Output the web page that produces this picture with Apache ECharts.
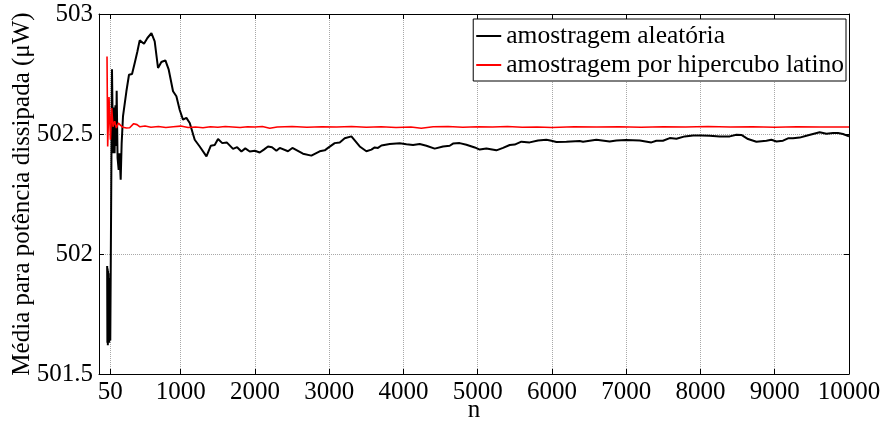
<!DOCTYPE html>
<html>
<head>
<meta charset="utf-8">
<script src="https://cdn.jsdelivr.net/npm/echarts/dist/echarts.min.js"></script>
<style>
  html, body { margin: 0; padding: 0; background: #fff; }
  #main { width: 883px; height: 425px; }
</style>
</head>
<body>
<div id="main"></div>
<script>
// tick labels on n axis
var xTicks = [50, 1000, 2000, 3000, 4000, 5000, 6000, 7000, 8000, 9000, 10000];

// amostragem aleatoria
var randN = [10, 13, 16, 19, 22, 25, 28, 31, 34, 37, 40, 43, 47, 52, 75, 89, 100, 110, 121, 130, 138, 150, 165, 176, 192, 205,
  223, 269, 304, 345, 381, 417, 448, 506, 552, 606, 650, 695, 740, 794, 839, 897, 942, 987, 1031, 1077, 1122, 1189, 1256,
  1347, 1405, 1458, 1503, 1560, 1620, 1705, 1760, 1818, 1870, 1930, 2000, 2064, 2120, 2176, 2230, 2289, 2334, 2445, 2504,
  2647, 2760, 2872, 2940, 2984, 3074, 3142, 3209, 3299, 3411, 3501, 3568, 3613, 3657, 3703, 3815, 3950, 4040, 4129, 4219,
  4309, 4421, 4533, 4623, 4667, 4757, 4848, 4960, 5027, 5117, 5252, 5341, 5431, 5498, 5588, 5700, 5812, 5925, 5992, 6060,
  6194, 6373, 6418, 6598, 6777, 6868, 6998, 7182, 7339, 7406, 7495, 7586, 7676, 7788, 7900, 8012, 8124, 8259, 8394, 8484,
  8551, 8640, 8753, 8888, 8955, 9023, 9111, 9179, 9246, 9336, 9426, 9515, 9605, 9696, 9785, 9852, 9919, 10000];
var randVal = [501.95, 501.63, 501.94, 501.62, 501.93, 501.63, 501.92, 501.64, 501.90, 501.63, 501.88, 501.65, 501.80, 501.64,
  502.77, 502.42, 502.61, 502.42, 502.62, 502.45, 502.68, 502.40, 502.35, 502.42, 502.31, 502.46,
  502.573, 502.678, 502.747, 502.75, 502.796, 502.844, 502.89, 502.876, 502.90, 502.92, 502.886, 502.775, 502.80, 502.807,
  502.768, 502.678, 502.657, 502.60, 502.56, 502.567, 502.546, 502.476, 502.448,
  502.407, 502.451, 502.454, 502.479, 502.462, 502.465, 502.438, 502.445, 502.427, 502.44, 502.427, 502.43, 502.423, 502.435,
  502.448, 502.445, 502.43, 502.442, 502.428, 502.442,
  502.418, 502.41, 502.428, 502.432, 502.442, 502.462, 502.465, 502.482, 502.49, 502.448, 502.428, 502.435, 502.444, 502.442,
  502.452, 502.458, 502.461, 502.457, 502.454, 502.458,
  502.451, 502.439, 502.448, 502.451, 502.46, 502.462, 502.455, 502.444, 502.435, 502.44, 502.432, 502.442, 502.454, 502.456,
  502.468, 502.465, 502.473, 502.476, 502.472, 502.467,
  502.468, 502.471, 502.468, 502.476, 502.469, 502.473, 502.475, 502.473, 502.465, 502.472, 502.472, 502.483, 502.48, 502.49,
  502.494, 502.494, 502.493, 502.49, 502.49, 502.497,
  502.496, 502.479, 502.468, 502.472, 502.476, 502.469, 502.472, 502.482, 502.482, 502.485, 502.493, 502.50, 502.507, 502.501,
  502.504, 502.504, 502.50, 502.49];

// amostragem por hipercubo latino
var lhsN = [8, 17, 35, 54, 71, 89, 111, 134, 161, 188, 223, 269, 313, 367, 412, 451, 520, 600, 700, 800, 900, 1000, 1100,
  1200, 1300, 1400, 1500, 1600, 1700, 1800, 1900, 2000, 2100, 2200, 2300, 2500, 2700, 2900, 3100, 3300, 3500, 3700, 3900,
  4100, 4240, 4400, 4600, 4800, 5000, 5200, 5400, 5600, 5800, 6000, 6300, 6600, 6900, 7200, 7500, 7800, 8100, 8400, 8700,
  9000, 9300, 9600, 10000];
var lhsVal = [502.823, 502.448, 502.654, 502.476, 502.608, 502.53, 502.553, 502.525, 502.546, 502.537, 502.528, 502.525,
  502.526, 502.543, 502.539, 502.530, 502.533, 502.528, 502.531, 502.527, 502.530, 502.533, 502.527, 502.529, 502.526,
  502.530, 502.528, 502.531, 502.529, 502.527, 502.530, 502.529, 502.531, 502.524, 502.529, 502.531, 502.528, 502.530,
  502.529, 502.531, 502.528, 502.530, 502.527, 502.529, 502.524, 502.530, 502.531, 502.528, 502.530, 502.529, 502.531,
  502.528, 502.529, 502.527, 502.530, 502.529, 502.530, 502.528, 502.530, 502.529, 502.531, 502.529, 502.530, 502.528,
  502.530, 502.529, 502.529];

function pairs(xs, ys) {
  return xs.map(function (x, i) { return [x, ys[i]]; });
}

var font = 'Liberation Serif';
var boxLine = { show: true, onZero: false, lineStyle: { color: '#000', width: 1 } };
var inTick = { show: true, inside: true, length: 5, lineStyle: { color: '#000', width: 1 } };
var plain = function (v) { return String(v); };

var chart = echarts.init(document.getElementById('main'));
chart.setOption({
  animation: false,
  backgroundColor: '#fff',
  textStyle: { fontFamily: font },
  grid: { left: 99, right: 34, top: 14, bottom: 51, containLabel: false, outerBoundsMode: 'none' },
  legend: {
    orient: 'vertical',
    right: 37,
    top: 19,
    padding: [4, 2, 3, 3],
    itemGap: 3,
    itemWidth: 25,
    itemHeight: 2,
    icon: 'rect',
    borderColor: '#000',
    borderWidth: 1,
    backgroundColor: '#fff',
    textStyle: { fontFamily: font, fontSize: 25.5, color: '#000' },
    data: ['amostragem aleatória', 'amostragem por hipercubo latino']
  },
  xAxis: [{
    type: 'value',
    min: -100,
    max: 10000,
    name: 'n',
    nameLocation: 'middle',
    nameGap: 24,
    nameMoveOverlap: false,
    nameTextStyle: { fontFamily: font, fontSize: 25, color: '#000' },
    axisLine: boxLine,
    axisTick: Object.assign({ customValues: xTicks }, inTick),
    axisLabel: { customValues: xTicks, formatter: plain, margin: 6, fontFamily: font, fontSize: 25, color: '#000' },
    splitLine: { show: true, lineStyle: { color: '#a8a8a8', type: 'dotted', width: 1 } }
  }, {
    type: 'value',
    position: 'top',
    min: -100,
    max: 10000,
    axisLine: boxLine,
    axisTick: Object.assign({ customValues: xTicks }, inTick),
    axisLabel: { show: false },
    splitLine: { show: false }
  }],
  yAxis: [{
    type: 'value',
    min: 501.5,
    max: 503,
    interval: 0.5,
    name: 'Média para potência dissipada (μW)',
    nameLocation: 'middle',
    nameGap: 64,
    nameMoveOverlap: false,
    nameTextStyle: { fontFamily: font, fontSize: 25, color: '#000' },
    axisLine: boxLine,
    axisTick: inTick,
    axisLabel: { formatter: plain, margin: 6, fontFamily: font, fontSize: 25, color: '#000' },
    splitLine: { show: true, lineStyle: { color: '#a8a8a8', type: 'dotted', width: 1 } }
  }, {
    type: 'value',
    position: 'right',
    min: 501.5,
    max: 503,
    interval: 0.5,
    axisLine: boxLine,
    axisTick: inTick,
    axisLabel: { show: false },
    splitLine: { show: false }
  }],
  series: [{
    name: 'amostragem aleatória',
    type: 'line',
    symbol: 'none',
    data: pairs(randN, randVal),
    lineStyle: { color: '#000', width: 2 },
    itemStyle: { color: '#000' },
    z: 3
  }, {
    name: 'amostragem por hipercubo latino',
    type: 'line',
    symbol: 'none',
    data: pairs(lhsN, lhsVal),
    lineStyle: { color: '#ff0000', width: 1.6 },
    itemStyle: { color: '#ff0000' },
    z: 4
  }]
});
</script>
</body>
</html>
